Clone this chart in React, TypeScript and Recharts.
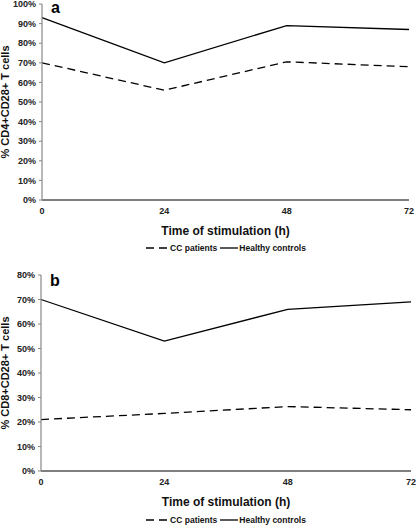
import { LineChart, Line, XAxis, YAxis, Legend, Label } from "recharts"

const hours = [0, 24, 48, 72]
const cd4Patients = [70, 56, 70.5, 68]
const cd4Controls = [93, 70, 89, 87]
const cd8Patients = [21, 23.5, 26.3, 25]
const cd8Controls = [70, 53, 66, 69]
const cd4Ticks = [0, 10, 20, 30, 40, 50, 60, 70, 80, 90, 100]
const cd8Ticks = [0, 10, 20, 30, 40, 50, 60, 70, 80]

const font = "'Liberation Sans', Arial, sans-serif"
const tickStyle = { fill: "#222", fontSize: 9, fontWeight: 700, fontFamily: font }

function LegendContent({ height }: { height: number }) {
  return (
    <div
      style={{
        height,
        lineHeight: `${height}px`,
        display: "flex",
        alignItems: "center",
        justifyContent: "center",
        fontFamily: font,
        fontSize: 8.5,
        fontWeight: 700,
        color: "#111",
        paddingLeft: 36,
      }}
    >
      <svg width={23} height={4} style={{ marginRight: 1 }}>
        <line x1={0} y1={2} x2={23} y2={2} stroke="#000" strokeWidth={1.3} strokeDasharray="8 5" />
      </svg>
      <span>CC patients</span>
      <svg width={18} height={4} style={{ margin: "0 1px 0 3px" }}>
        <line x1={0} y1={2} x2={18} y2={2} stroke="#000" strokeWidth={1.3} />
      </svg>
      <span>Healthy controls</span>
    </div>
  )
}

interface PanelProps {
  patients: number[]
  controls: number[]
  ticks: number[]
  yLabel: string
  letter: string
  height: number
  margin: { top: number; right: number; left: number; bottom: number }
  yWidth: number
  xHeight: number
  titleOffset: number
  legendHeight: number
  letterLeft: number
  letterTop: number
}

function Panel(p: PanelProps) {
  const data = hours.map((h, i) => ({ hour: h, patients: p.patients[i], controls: p.controls[i] }))
  const max = p.ticks[p.ticks.length - 1]
  return (
    <div style={{ position: "relative", width: 416, height: p.height }}>
      <LineChart width={416} height={p.height} data={data} margin={p.margin}>
        <XAxis
          dataKey="hour"
          type="number"
          domain={[0, 72]}
          ticks={hours}
          tick={tickStyle}
          tickLine={false}
          tickSize={4}
          tickMargin={4}
          height={p.xHeight}
          axisLine={{ stroke: "#000", strokeWidth: 1.2 }}
        >
          <Label
            value="Time of stimulation (h)"
            position="insideBottom"
            offset={p.titleOffset}
            style={{ fill: "#111", fontSize: 12, fontWeight: 700, fontFamily: font }}
          />
        </XAxis>
        <YAxis
          domain={[0, max]}
          ticks={p.ticks}
          tickFormatter={(v: number) => `${v}%`}
          tick={tickStyle}
          tickSize={3}
          tickMargin={3}
          width={p.yWidth}
          interval={0}
          axisLine={{ stroke: "#888", strokeWidth: 1.2 }}
          tickLine={{ stroke: "#888" }}
        >
          <Label
            value={p.yLabel}
            angle={-90}
            position="insideLeft"
            offset={5}
            style={{ textAnchor: "middle", fill: "#111", fontSize: 11, fontWeight: 700, fontFamily: font }}
          />
        </YAxis>
        <Legend
          verticalAlign="bottom"
          height={p.legendHeight}
          wrapperStyle={{ left: 0, width: 416 }}
          content={() => <LegendContent height={p.legendHeight} />}
        />
        <Line
          dataKey="patients"
          name="CC patients"
          stroke="#000"
          strokeWidth={1.3}
          strokeDasharray="8 5"
          dot={false}
          activeDot={false}
          isAnimationActive={false}
        />
        <Line
          dataKey="controls"
          name="Healthy controls"
          stroke="#000"
          strokeWidth={1.3}
          dot={false}
          activeDot={false}
          isAnimationActive={false}
        />
      </LineChart>
      <span
        style={{
          position: "absolute",
          left: p.letterLeft,
          top: p.letterTop,
          fontFamily: font,
          fontSize: 16,
          fontWeight: 700,
          lineHeight: "16px",
          color: "#000",
        }}
      >
        {p.letter}
      </span>
    </div>
  )
}

export default function App() {
  return (
    <div style={{ position: "absolute", left: 0, top: 0, width: 416, height: 525, background: "#fff" }}>
      <Panel
        patients={cd4Patients}
        controls={cd4Controls}
        ticks={cd4Ticks}
        yLabel="% CD4+CD28+ T cells"
        letter="a"
        height={260}
        margin={{ top: 4, right: 7, left: 0, bottom: 6 }}
        yWidth={42}
        xHeight={42}
        titleOffset={7}
        legendHeight={12}
        letterLeft={51}
        letterTop={0}
      />
      <Panel
        patients={cd8Patients}
        controls={cd8Controls}
        ticks={cd8Ticks}
        yLabel="% CD8+CD28+ T cells"
        letter="b"
        height={265}
        margin={{ top: 15, right: 5, left: 0, bottom: 0 }}
        yWidth={41}
        xHeight={44}
        titleOffset={9}
        legendHeight={10}
        letterLeft={50}
        letterTop={13}
      />
    </div>
  )
}
